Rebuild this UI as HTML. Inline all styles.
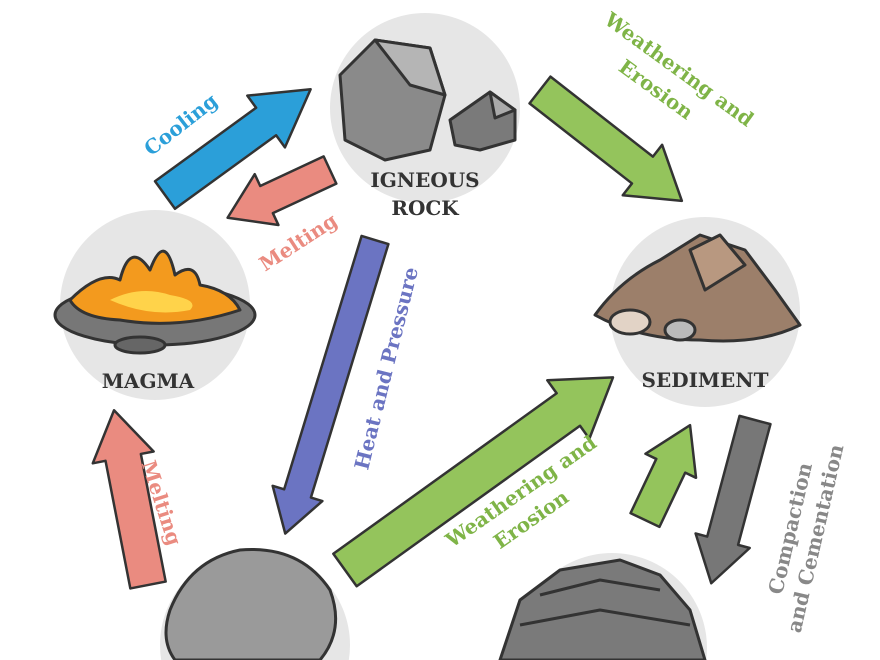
<!DOCTYPE html>
<html><head><meta charset="utf-8"><style>
html,body{margin:0;padding:0;background:#fff;width:880px;height:660px;overflow:hidden;}
svg{display:block;}
text{font-family:"DejaVu Serif","Liberation Serif",serif;font-weight:bold;}
</style></head><body>
<svg width="880" height="660" viewBox="0 0 880 660" xmlns="http://www.w3.org/2000/svg">
<rect width="880" height="660" fill="#fff"/>
<g fill="#e6e6e6">
<circle cx="425" cy="108" r="95"/>
<circle cx="155" cy="305" r="95"/>
<circle cx="705" cy="312" r="95"/>
<circle cx="255" cy="645" r="95"/>
<circle cx="612" cy="648" r="95"/>
</g>
<g stroke="#333" stroke-width="3" stroke-linejoin="round">
<polygon points="340,75 375,40 430,48 445,95 430,150 385,160 345,140" fill="#8a8a8a"/>
<polygon points="375,40 430,48 445,95 410,85" fill="#b5b5b5"/>
<polygon points="450,120 490,92 515,110 515,140 480,150 455,145" fill="#7a7a7a"/>
<polygon points="490,92 515,110 495,118" fill="#aaa"/>
</g>
<g stroke="#333" stroke-width="3" stroke-linejoin="round">
<ellipse cx="155" cy="315" rx="100" ry="30" fill="#777"/>
<path d="M70,300 Q100,270 120,280 Q130,240 150,270 Q165,230 175,275 Q195,260 200,285 Q230,290 240,310 Q180,330 120,320 Q80,318 70,300Z" fill="#f39a1e"/>
<path d="M110,300 Q140,285 170,295 Q200,300 190,310 Q150,318 110,300Z" fill="#ffd34a" stroke="none"/>
<ellipse cx="140" cy="345" rx="25" ry="8" fill="#666"/>
</g>
<g stroke="#333" stroke-width="3" stroke-linejoin="round">
<path d="M595,315 Q620,280 660,260 L700,235 L745,250 L775,290 L800,325 Q760,345 700,340 Q640,340 595,315Z" fill="#9c7f6a"/>
<polygon points="690,250 720,235 745,265 705,290" fill="#b89880"/>
<ellipse cx="630" cy="322" rx="20" ry="12" fill="#e2d3c6"/>
<ellipse cx="680" cy="330" rx="15" ry="10" fill="#bbb"/>
</g>
<g stroke="#333" stroke-width="3" stroke-linejoin="round">
<path d="M170,610 Q190,560 240,550 Q300,545 330,590 Q345,630 320,660 L175,660 Q160,640 170,610Z" fill="#9a9a9a"/>
<path d="M520,600 L560,570 L620,560 L660,575 L690,610 L705,660 L500,660 Z" fill="#7a7a7a"/>
<path d="M540,595 L600,580 L660,590" fill="none"/>
<path d="M520,625 L600,610 L690,625" fill="none"/>
</g>
<g stroke="#333" stroke-width="2.5" stroke-linejoin="round">
<path transform="translate(165,195) rotate(-36)" d="M0,-17 L125,-17 L125,-32 L180,0 L125,32 L125,17 L0,17Z" fill="#2b9fd9"/>
<path transform="translate(330,170) rotate(155)" d="M0,-15 L70,-15 L70,-28 L113,0 L70,28 L70,15 L0,15Z" fill="#ea8b80"/>
<path transform="translate(540,90) rotate(38)" d="M0,-17 L130,-17 L130,-32 L180,0 L130,32 L130,17 L0,17Z" fill="#94c45c"/>
<path transform="translate(375,240) rotate(107)" d="M0,-14 L265,-14 L265,-26 L307,0 L265,26 L265,14 L0,14Z" fill="#6b74c2"/>
<path transform="translate(345,570) rotate(-35.7)" d="M0,-20 L275,-20 L275,-36 L330,0 L275,36 L275,20 L0,20Z" fill="#94c45c"/>
<path transform="translate(645,520) rotate(-64.6)" d="M0,-16 L60,-16 L60,-28 L105,0 L60,28 L60,16 L0,16Z" fill="#94c45c"/>
<path transform="translate(755,420) rotate(105)" d="M0,-16 L125,-16 L125,-28 L169,0 L125,28 L125,16 L0,16Z" fill="#777"/>
<path transform="translate(148,585) rotate(-101)" d="M0,-18 L130,-18 L130,-31 L178,0 L130,31 L130,18 L0,18Z" fill="#ea8b80"/>
</g>
<g font-size="20" text-anchor="middle">
<text x="425" y="187" fill="#333">IGNEOUS</text>
<text x="425" y="215" fill="#333">ROCK</text>
<text x="148" y="388" fill="#333">MAGMA</text>
<text x="705" y="387" fill="#333">SEDIMENT</text>
<text transform="translate(185,130) rotate(-38)" fill="#2b9fd9">Cooling</text>
<text transform="translate(302,248) rotate(-33)" fill="#ea8b80">Melting</text>
<text transform="translate(675,75) rotate(36)" fill="#7fb447">Weathering and</text>
<text transform="translate(652,95) rotate(36)" fill="#7fb447">Erosion</text>
<text transform="translate(393,370) rotate(-76)" fill="#6b74c2">Heat and Pressure</text>
<text transform="translate(155,505) rotate(72)" fill="#ea8b80">Melting</text>
<text transform="translate(525,497) rotate(-35)" fill="#7fb447">Weathering and</text>
<text transform="translate(535,525) rotate(-35)" fill="#7fb447">Erosion</text>
<text transform="translate(797,530) rotate(-77)" fill="#888">Compaction</text>
<text transform="translate(822,540) rotate(-77)" fill="#888">and Cementation</text>
</g>
</svg>
</body></html>
